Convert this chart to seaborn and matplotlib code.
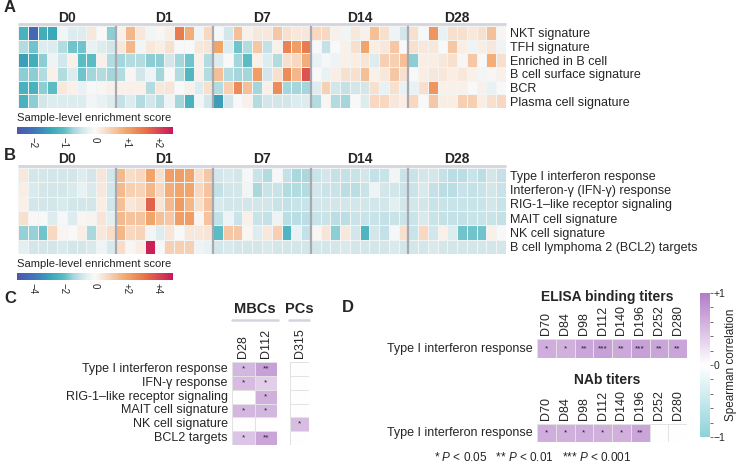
import numpy as np
import pandas as pd
import matplotlib
matplotlib.use("Agg")
import matplotlib.pyplot as plt
from matplotlib.colors import LinearSegmentedColormap
from matplotlib.lines import Line2D
from matplotlib.ticker import MultipleLocator
import seaborn as sns

# ---------------- data ----------------
days_ab = ["D0", "D1", "D7", "D14", "D28"]
n_per_day = 10

sigs_a = ["NKT signature", "TFH signature", "Enriched in B cell",
          "B cell surface signature", "BCR", "Plasma cell signature"]
# 50 samples per row: D0 | D1 | D7 | D14 | D28
nkt = [-1.2, -2.2, -1.3, -1.4, -0.1, -0.3, -0.3, 0.2, 0.0, -0.8,
       0.1, 0.8, 0.2, -0.1, 0.05, 0.15, 1.5, 0.9, -0.15, 0.4,
       -0.05, -0.4, 0.7, 0.1, 0.2, 0.2, 0.6, 0.3, 0.2, 0.2,
       0.4, 0.4, 0.1, -0.1, 0.2, 0.1, 0.7, 0.3, -0.15, -0.4,
       0.3, -0.05, 1.2, -0.2, 0.3, 0.3, 0.2, 0.3, 0.7, 0.05]
tfh = [-0.6, -0.9, -0.3, -0.3, -0.6, -0.9, -0.9, -0.2, -0.3, -0.4,
       0.2, 0.8, -0.1, 0.2, 0.15, 0.3, 0.0, 0.0, 0.2, 0.25,
       1.0, -0.3, -0.9, -0.6, 0.6, -0.5, 0.1, 1.4, 1.1, 1.5,
       0.0, -0.5, 0.0, 0.1, 0.3, 1.0, 0.15, 0.2, 0.6, 0.0,
       0.3, 0.2, 0.2, 0.0, 0.6, 0.15, -0.15, 0.15, 0.2, -0.15]
bcell = [-1.5, -1.3, -0.8, -0.15, -0.4, 0.1, -1.0, -1.0, 0.1, -0.6,
         -0.7, -0.6, -0.6, -0.8, -0.8, -0.4, -0.7, -0.9, 0.1, -0.6,
         -0.3, 0.0, -0.7, -1.0, 0.1, -0.3, -0.6, 0.3, 0.4, 0.9,
         -0.2, -0.05, -0.15, 0.1, 0.15, 0.25, -0.3, 0.5, 0.5, 0.7,
         -0.8, 0.15, 0.15, 0.2, 0.3, 0.05, 0.6, 0.0, 0.9, 0.3]
surface = [-0.8, -0.8, -0.6, 0.1, -0.6, -0.3, -0.9, -0.7, -0.6, -0.7,
           -0.6, 0.05, -0.4, -0.15, -0.7, 0.0, -0.6, -1.1, 0.1, -0.6,
           0.7, -0.6, -0.7, -0.7, 1.1, -0.4, 0.3, 1.3, 0.8, 1.9,
           0.0, -0.2, 0.15, 0.3, 0.3, 0.7, 0.1, 0.2, 0.6, 0.3,
           0.0, 0.15, 0.2, 0.2, 0.15, 0.2, 0.1, -0.1, 0.05, 0.1]
bcr = [-1.2, -1.2, -0.8, -1.0, 0.2, 0.1, -0.2, -0.05, 0.05, 0.1,
       0.1, 0.1, 0.1, -0.6, 0.2, 0.25, 0.0, 0.1, -0.3, 0.3,
       -0.6, 0.5, 1.3, 0.7, -0.7, 0.1, 1.3, -0.7, -0.7, -0.7,
       -0.3, 0.5, -0.4, -0.5, -0.4, -0.4, 0.3, -0.2, 0.3, -0.2,
       -0.2, 0.3, 1.2, 0.1, 0.1, 0.1, 0.0, 0.1, -0.2, 0.0]
plasma = [-1.2, -0.8, -0.4, -0.3, -0.3, -0.3, -0.3, -0.1, -0.2, -0.3,
          -0.5, -0.3, -0.6, -0.4, -0.6, -0.15, -0.7, -1.2, -0.1, -0.4,
          -1.5, -0.4, 0.0, 0.1, -0.6, -0.4, -0.4, -0.4, -0.3, -0.3,
          -0.6, 0.05, -0.6, -0.7, 0.0, -0.3, 0.4, 0.4, 0.2, 0.15,
          0.4, 0.0, 0.6, 0.15, 0.15, 0.5, 0.5, 0.15, 0.3, 0.4]

sigs_b = ["Type I interferon response", "Interferon-γ (IFN-γ) response",
          "RIG-1–like receptor signaling", "MAIT cell signature",
          "NK cell signature", "B cell lymphoma 2 (BCL2) targets"]
ifn1 = [0.4, -0.8, -0.8, -0.8, -0.8, -0.8, -0.6, -0.8, 0.5, -0.8,
        1.5, 0.7, 0.8, 2.0, 0.6, 2.2, 2.2, 2.0, 0.6, 1.2,
        -0.8, -0.7, -0.8, -0.1, -0.9, -1.2, -0.1, -1.0, -1.3, -1.3,
        -0.9, -0.8, -1.0, -1.0, -0.9, -0.8, -1.0, -0.9, -0.2, -0.9,
        -0.9, -0.8, -0.8, -1.0, -1.1, -1.1, -0.9, -1.1, -0.8, -1.0]
ifng = [0.3, -0.7, -0.8, -0.8, -0.8, -0.7, -0.4, -0.7, 0.4, -0.8,
        1.5, 1.0, 0.9, 1.6, 0.8, 1.8, 2.0, 2.0, 0.8, 1.3,
        -1.0, -0.8, -0.8, -0.2, -1.3, -0.9, -0.9, -1.2, -1.2, -1.2,
        -0.8, -0.9, -0.9, -1.1, -1.1, -0.9, -0.3, -0.8, -0.8, -0.9,
        -0.9, -0.7, -1.0, -1.1, -1.1, -0.9, -1.0, -0.9, -0.8, -0.9]
rig = [0.2, -0.8, -0.8, -0.8, -0.7, -0.8, -0.8, -0.8, 0.3, -0.8,
       1.4, 0.4, 0.6, 3.5, 0.5, 1.5, 2.3, 1.6, 0.6, 1.3,
       -0.7, -0.8, -0.8, -0.8, -0.8, -0.8, -0.9, -1.0, -0.9, -0.9,
       -0.8, -0.8, -0.8, -0.8, -0.8, -0.8, -0.8, -0.8, -0.5, -0.8,
       -0.8, -0.8, -0.9, -0.9, -0.9, -0.9, -0.9, -0.9, -0.8, -0.9]
mait = [0.6, 0.05, -0.05, -0.6, -0.1, -0.6, 0.1, 0.15, 0.5, -0.5,
        1.5, 1.3, 1.3, 2.0, 1.4, 1.2, 2.2, 2.2, 0.1, 1.3,
        -1.0, -0.3, -0.9, 0.2, -0.9, -1.0, -0.3, -1.1, -1.1, -1.1,
        -0.9, -0.9, -1.1, -1.1, -0.9, -0.9, -0.9, -1.0, -0.9, -0.9,
        -0.9, -0.7, -0.9, -1.0, -1.0, -1.0, -0.9, -0.9, -0.9, -1.0]
nk = [-1.5, -1.5, -1.8, 0.8, 0.1, 0.0, 0.3, -1.3, 0.4, 0.7,
      1.6, 0.8, 0.9, -0.2, -0.6, 0.5, 0.0, 0.4, 0.4, 0.5,
      -2.0, 1.2, 1.2, 0.1, -0.6, 0.4, 1.0, -2.3, -0.4, -1.0,
      0.1, 0.5, -1.6, 0.4, -0.8, -2.3, -0.8, -1.0, -0.1, 0.6,
      -0.9, 0.8, -0.8, 0.2, -0.6, -1.8, -1.8, -1.8, 0.2, 0.0]
bcl2 = [-0.5, -0.8, -0.8, -0.8, -0.7, -0.8, -0.8, -0.7, -0.3, -0.7,
        0.7, 0.1, 0.3, 4.8, -0.1, 1.0, 1.0, 1.0, -0.3, -0.4,
        -0.8, -0.7, -0.8, -0.8, -0.8, -0.7, -0.8, -0.8, -0.8, -0.8,
        -0.8, -0.8, -0.8, -0.7, -0.8, -0.8, -0.8, -0.8, -0.7, -0.8,
        -0.8, -0.8, -0.7, -0.8, -0.8, -0.8, -0.8, -0.8, -0.8, -0.8]

# panel C: Spearman correlation, MBCs (D28, D112) and PCs (D315)
sigs_c = ["Type I interferon response", "IFN-γ response",
          "RIG-1–like receptor signaling", "MAIT cell signature",
          "NK cell signature", "BCL2 targets"]
mbc_days = ["D28", "D112"]
mbc_rho = [[0.55, 0.72], [0.52, 0.38], [0.0, 0.6], [0.55, 0.55], [0.0, 0.0], [0.45, 0.68]]
mbc_sig = [["*", "**"], ["*", "*"], ["", "*"], ["*", "*"], ["", ""], ["*", "**"]]
pc_days = ["D315"]
pc_rho = [[0.0], [0.0], [0.0], [0.0], [0.5], [0.0]]
pc_sig = [[""], [""], [""], [""], ["*"], [""]]

# panel D
titer_days = ["D70", "D84", "D98", "D112", "D140", "D196", "D252", "D280"]
elisa_rho = [0.62, 0.6, 0.68, 0.72, 0.66, 0.72, 0.68, 0.68]
elisa_sig = ["*", "*", "**", "***", "**", "***", "**", "**"]
nab_rho = [0.62, 0.6, 0.62, 0.6, 0.6, 0.68, 0.0, 0.0]
nab_sig = ["*", "*", "*", "*", "*", "**", "", ""]

# ---------------- style ----------------
W, H = 740, 473
sns.set_style("white")
plt.rcParams["font.family"] = ["Liberation Sans", "DejaVu Sans"]
plt.rcParams["mathtext.fontset"] = "custom"
plt.rcParams["mathtext.it"] = "Liberation Sans:italic"
plt.rcParams["mathtext.rm"] = "Liberation Sans"

score_cmap = LinearSegmentedColormap.from_list("score", [
    (0.0, "#4b57ae"), (0.12, "#4079bb"), (0.22, "#3aa9b9"), (0.3, "#5cbcc4"),
    (0.36, "#a3d6db"), (0.42, "#d3e7eb"), (0.47, "#eef4f5"), (0.5, "#f9f9f9"),
    (0.57, "#f8dcc8"), (0.7, "#f2a66c"), (0.82, "#e8734a"), (1.0, "#c8175a")])
rho_cmap = LinearSegmentedColormap.from_list("rho", ["#8dd2d8", "#ffffff", "#b27cc8"])


def rect(x0, y0, x1, y1):
    return [x0 / W, 1 - y1 / H, (x1 - x0) / W, (y1 - y0) / H]


def fy(y):
    return 1 - y / H


fig = plt.figure(figsize=(W / 100, H / 100), dpi=100)


def score_panel(rows, labels, top, bottom, vlim, cticks, ctlabels, cbar_y, letter, letter_y):
    ax = fig.add_axes(rect(18, top, 506, bottom))
    cax = fig.add_axes(rect(17, cbar_y, 173, cbar_y + 7))
    cols = [f"{d}_{i}" for d in days_ab for i in range(n_per_day)]
    df = pd.DataFrame(rows, index=labels, columns=cols)
    sns.heatmap(df, ax=ax, cmap=score_cmap, vmin=-vlim, vmax=vlim,
                linewidths=0.5, linecolor="#f2f4f4", xticklabels=False,
                yticklabels=True, cbar_ax=cax,
                cbar_kws={"orientation": "horizontal", "ticks": cticks})
    ax.yaxis.tick_right()
    ax.set_yticklabels(labels, rotation=0, fontsize=9)
    ax.tick_params(axis="y", length=0, pad=3)
    ax.set_ylabel("")
    n = len(labels)
    for k in range(1, len(days_ab)):
        ax.vlines(k * n_per_day, -0.18, n, color="#a8a8b0", lw=1.6, clip_on=False)
    ax.hlines(-0.12, 0, len(cols), color="#d4d4dc", lw=2, clip_on=False)
    trans = ax.get_xaxis_transform()
    for k, d in enumerate(days_ab):
        ax.text((k + 0.5) * n_per_day, 1.1, d, transform=trans, ha="center",
                va="center", fontsize=10, fontweight="bold")
    cb = ax.collections[0].colorbar
    cb.outline.set_visible(False)
    cax.set_xticklabels(ctlabels, rotation=-90, fontsize=7)
    cax.tick_params(axis="x", length=0, pad=2)
    fig.text(17 / W, fy(cbar_y - 9), "Sample-level enrichment score",
             fontsize=8.1, ha="left", va="center")
    fig.text(4 / W, fy(letter_y), letter, fontsize=12, fontweight="bold", va="center")


score_panel([nkt, tfh, bcell, surface, bcr, plasma], sigs_a, 26, 108, 2.5,
            [-2, -1, 0, 1, 2], ["−2", "−1", "0", "+1", "+2"], 127, "A", 8)
score_panel([ifn1, ifng, rig, mait, nk, bcl2], sigs_b, 168, 254, 5,
            [-4, -2, 0, 2, 4], ["−4", "−2", "0", "+2", "+4"], 273, "B", 155)

# ---------------- panel C ----------------
star_kws = {"fontsize": 6, "color": "#222222"}
ax_m = fig.add_axes(rect(232, 362, 277, 445))
sns.heatmap(pd.DataFrame(mbc_rho, index=sigs_c, columns=mbc_days), ax=ax_m,
            cmap=rho_cmap, vmin=-1, vmax=1, cbar=False, linewidths=0.6,
            linecolor="#e2e2e2", annot=np.array(mbc_sig), fmt="", annot_kws=star_kws,
            xticklabels=True, yticklabels=True)
ax_p = fig.add_axes(rect(290, 362, 309, 445))
sns.heatmap(pd.DataFrame(pc_rho, index=sigs_c, columns=pc_days), ax=ax_p,
            cmap=rho_cmap, vmin=-1, vmax=1, cbar=False, linewidths=0.6,
            linecolor="#e2e2e2", annot=np.array(pc_sig), fmt="", annot_kws=star_kws,
            xticklabels=True, yticklabels=False)
for a in (ax_m, ax_p):
    a.xaxis.tick_top()
    a.tick_params(axis="x", labelrotation=90, labelsize=9)
    a.tick_params(length=0, pad=3)
ax_m.tick_params(axis="y", labelrotation=0, labelsize=9)
fig.text(4 / W, fy(298), "C", fontsize=12, fontweight="bold", va="center")
fig.text(255 / W, fy(309), "MBCs", fontsize=10.5, fontweight="bold", ha="center", va="center")
fig.text(299 / W, fy(309), "PCs", fontsize=10.5, fontweight="bold", ha="center", va="center")
fig.add_artist(Line2D([232 / W, 278 / W], [fy(320), fy(320)], color="#d4d4e0", lw=1.8))
fig.add_artist(Line2D([289 / W, 309 / W], [fy(320), fy(320)], color="#d4d4e0", lw=1.8))

# ---------------- panel D ----------------
cax_d = fig.add_axes(rect(700, 293, 710, 437))
row_name = ["Type I interferon response"]
ax_e = fig.add_axes(rect(537, 339, 687, 358))
sns.heatmap(pd.DataFrame([elisa_rho], index=row_name, columns=titer_days), ax=ax_e,
            cmap=rho_cmap, vmin=-1, vmax=1, cbar_ax=cax_d, linewidths=0.6,
            linecolor="#e2e2e2", annot=np.array([elisa_sig]), fmt="", annot_kws=star_kws,
            xticklabels=True, yticklabels=True)
ax_n = fig.add_axes(rect(537, 424, 687, 442))
sns.heatmap(pd.DataFrame([nab_rho], index=row_name, columns=titer_days), ax=ax_n,
            cmap=rho_cmap, vmin=-1, vmax=1, cbar=False, linewidths=0.6,
            linecolor="#e2e2e2", annot=np.array([nab_sig]), fmt="", annot_kws=star_kws,
            xticklabels=True, yticklabels=True)
for a in (ax_e, ax_n):
    a.xaxis.tick_top()
    a.tick_params(axis="x", labelrotation=90, labelsize=9)
    a.tick_params(axis="y", labelrotation=0, labelsize=9)
    a.tick_params(length=0, pad=3)
fig.text(607 / W, fy(297), "ELISA binding titers", fontsize=10, fontweight="bold",
         ha="center", va="center")
fig.text(607 / W, fy(380), "NAb titers", fontsize=10, fontweight="bold",
         ha="center", va="center")
fig.text(348 / W, fy(307), "D", fontsize=12, fontweight="bold", ha="center", va="center")

cbd = ax_e.collections[0].colorbar
cbd.outline.set_visible(False)
cbd.set_ticks([-1, 0, 1])
cbd.set_ticklabels(["−1", "0", "+1"])
cax_d.yaxis.set_minor_locator(MultipleLocator(0.2))
cax_d.tick_params(which="both", axis="y", length=2, width=0.6, labelsize=7.5, pad=0.5,
                  color="#555555")
cbd.set_label("Spearman correlation", fontsize=8.5, labelpad=0)

fig.text(533 / W, fy(457),
         r"* $\it{P}$ < 0.05   ** $\it{P}$ < 0.01   *** $\it{P}$ < 0.001",
         fontsize=8.5, ha="center", va="center")

fig.savefig("out.png", dpi=100)
